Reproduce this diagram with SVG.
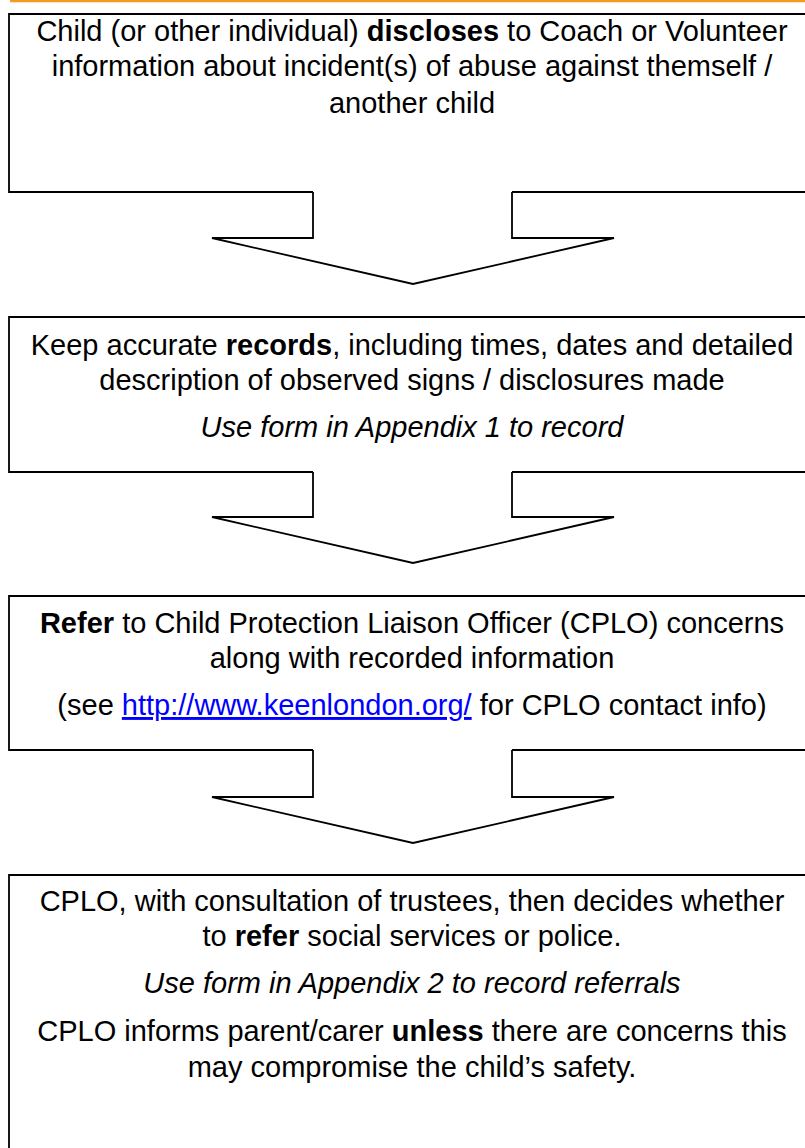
<svg xmlns="http://www.w3.org/2000/svg" width="805" height="1148" viewBox="0 0 805 1148">
<style>
.box{fill:#fff;stroke:#000;stroke-width:1.8;stroke-linejoin:miter}
.arr{fill:#fff;stroke:#000;stroke-width:1.8;stroke-linejoin:miter}
text{font-family:"Liberation Sans",Arial,sans-serif;font-size:29px;fill:#000;text-anchor:middle}
.b{font-weight:bold}
.i{font-style:italic}
.lnk{fill:#0000ff;text-decoration:underline}
</style>
<rect x="0" y="0" width="805" height="1148" fill="#fff"/>
<line x1="10" y1="1" x2="805" y2="1" stroke="#f39a21" stroke-width="2.5"/>
<g id="connectors">
<path class="arr" d="M313,192 V238 H212 L413,284 L614,238 H512 V192"/>
<path class="arr" d="M313,472 V517 H212 L413,563 L614,517 H512 V472"/>
<path class="arr" d="M313,750 V797 H212 L413,843 L614,797 H512 V750"/>
</g>
<g id="node1">
<path class="box" d="M313,192 H9 V14 H810 V192 H512"/>
<text x="412" y="41">Child (or other individual) <tspan class="b">discloses</tspan> to Coach or Volunteer</text>
<text x="412" y="76">information about incident(s) of abuse against themself /</text>
<text x="412" y="113">another child</text>
</g>
<g id="node2">
<path class="box" d="M313,472 H9 V317 H810 V472 H512"/>
<text x="412" y="355">Keep accurate <tspan class="b">records</tspan>, including times, dates and detailed</text>
<text x="412" y="390">description of observed signs / disclosures made</text>
<text x="412" y="437" class="i">Use form in Appendix 1 to record</text>
</g>
<g id="node3">
<path class="box" d="M313,750 H9 V596 H810 V750 H512"/>
<text x="412" y="633"><tspan class="b">Refer</tspan> to Child Protection Liaison Officer (CPLO) concerns</text>
<text x="412" y="668">along with recorded information</text>
<text x="412" y="715">(see <tspan class="lnk">http://www.keenlondon.org/</tspan> for CPLO contact info)</text>
</g>
<g id="node4">
<path class="box" d="M9,1160 V875 H810 V1160"/>
<text x="412" y="911">CPLO, with consultation of trustees, then decides whether</text>
<text x="412" y="946">to <tspan class="b">refer</tspan> social services or police.</text>
<text x="412" y="993" class="i">Use form in Appendix 2 to record referrals</text>
<text x="412" y="1041">CPLO informs parent/carer <tspan class="b">unless</tspan> there are concerns this</text>
<text x="412" y="1077">may compromise the child’s safety.</text>
</g>
</svg>
